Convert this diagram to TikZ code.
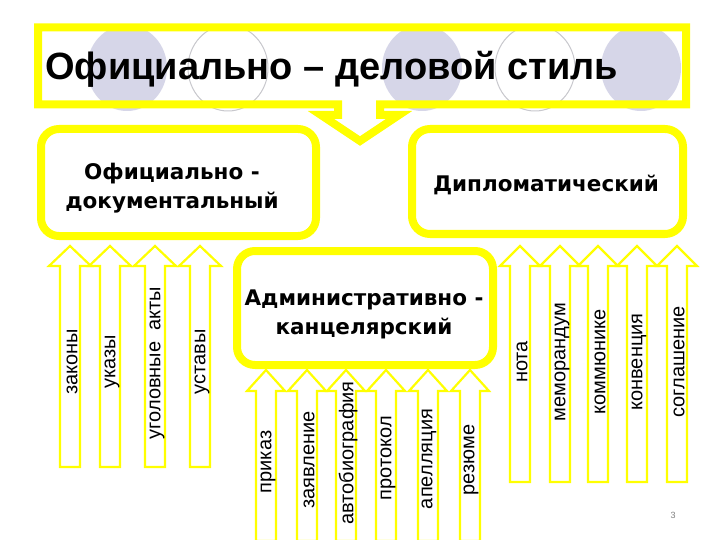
\documentclass[tikz,border=0pt]{standalone}
\usepackage{fontspec}
\setmainfont{Liberation Sans}
\newfontfamily\boxfont{DejaVu Sans}
\definecolor{yel}{RGB}{255,255,0}
\definecolor{lav}{RGB}{214,214,232}
\definecolor{ring}{RGB}{200,200,205}
\tikzset{
  banner/.style={draw=yel, line width=8pt, line join=miter},
  roundbox/.style={draw=yel, fill=white, line width=8pt, rounded corners=18pt},
  boxtext/.style={font=\boxfont\bfseries\fontsize{21.5}{29}\selectfont, align=center, text=black},
  arr/.style={draw=yel, fill=white, line width=2.2pt, line join=miter},
  lbl/.style={font=\fontsize{20}{22}\selectfont, text=black, rotate=90, inner sep=0pt},
  dotfill/.style={fill=lav, draw=none},
  dotring/.style={fill=white, draw=ring, line width=1pt}
}
\newcommand\yarrow[5]{% cx, tip, base, bottom, half head width
  \draw[arr] (#1-10,#4) -- (#1-10,#3) -- (#1-#5,#3) -- (#1,#2) -- (#1+#5,#3) -- (#1+10,#3) -- (#1+10,#4) -- cycle;}
\begin{document}
\begin{tikzpicture}[x=1pt,y=-1pt]
\useasboundingbox[fill=white] (0,0) rectangle (720,540);
% background circles
\fill[dotfill] (127,68) ellipse [x radius=40, y radius=43];
\draw[dotring] (228,68) ellipse [x radius=40, y radius=43];
\fill[dotfill] (422,68) ellipse [x radius=40, y radius=43];
\draw[dotring] (535,68) ellipse [x radius=40, y radius=43];
\fill[dotfill] (641,68) ellipse [x radius=40, y radius=43];
% banner with down arrow
\draw[banner] (38,27.5) -- (686,27.5) -- (686,104.5) -- (380,104.5) -- (380,115) -- (399,115)
  -- (360,141) -- (321,115) -- (338,115) -- (338,104.5) -- (38,104.5) -- cycle;
\node[anchor=base west, font=\bfseries\fontsize{38}{40}\selectfont, inner sep=0pt] (title) at (45,80) {Официально – деловой стиль};
% category boxes
\draw[roundbox] (41,129) rectangle (316,236);
\node[boxtext] (doc) at (172,188) {Официально -\\документальный};
\draw[roundbox] (412,129) rectangle (683,234);
\node[boxtext] (dip) at (546,185) {Дипломатический};
\draw[roundbox] (237,251) rectangle (493,365);
\node[boxtext] (adm) at (364,314) {Административно -\\канцелярский};
% left arrows
\yarrow{70}{246}{266}{467}{21}
\yarrow{110}{246}{266}{467}{21}
\yarrow{155}{246}{266}{467}{21}
\yarrow{200}{246}{266}{467}{21}
\node[lbl] (l1) at (72,362) {законы};
\node[lbl] (l2) at (112,362) {указы};
\node[lbl] (l3) at (157,363) {уголовные \ акты};
\node[lbl] (l4) at (202,362) {уставы};
% middle arrows
\yarrow{266}{370}{391}{541}{19}
\yarrow{307}{370}{391}{541}{19}
\yarrow{346}{370}{391}{541}{19}
\yarrow{386}{370}{391}{541}{19}
\yarrow{428}{370}{391}{541}{19}
\yarrow{470}{370}{391}{541}{19}
\node[lbl] (m1) at (268,462) {приказ};
\node[lbl] (m2) at (309,460) {заявление};
\node[lbl] (m3) at (348,453) {автобиография};
\node[lbl] (m4) at (388,458) {протокол};
\node[lbl] (m5) at (429,459) {апелляция};
\node[lbl] (m6) at (471,460) {резюме};
% right arrows
\yarrow{520}{246}{266}{482}{20}
\yarrow{560}{246}{266}{482}{20}
\yarrow{598}{246}{266}{482}{20}
\yarrow{637}{246}{266}{482}{20}
\yarrow{677}{246}{266}{482}{20}
\node[lbl] (r1) at (522,362) {нота};
\node[lbl] (r2) at (562,362) {меморандум};
\node[lbl] (r3) at (600,362) {коммюнике};
\node[lbl] (r4) at (639,362) {конвенция};
\node[lbl] (r5) at (679,362) {соглашение};
% page number
\node[font=\fontsize{9}{10}\selectfont, text=gray, inner sep=0pt] (pg) at (673,515) {3};
\end{tikzpicture}
\end{document}
